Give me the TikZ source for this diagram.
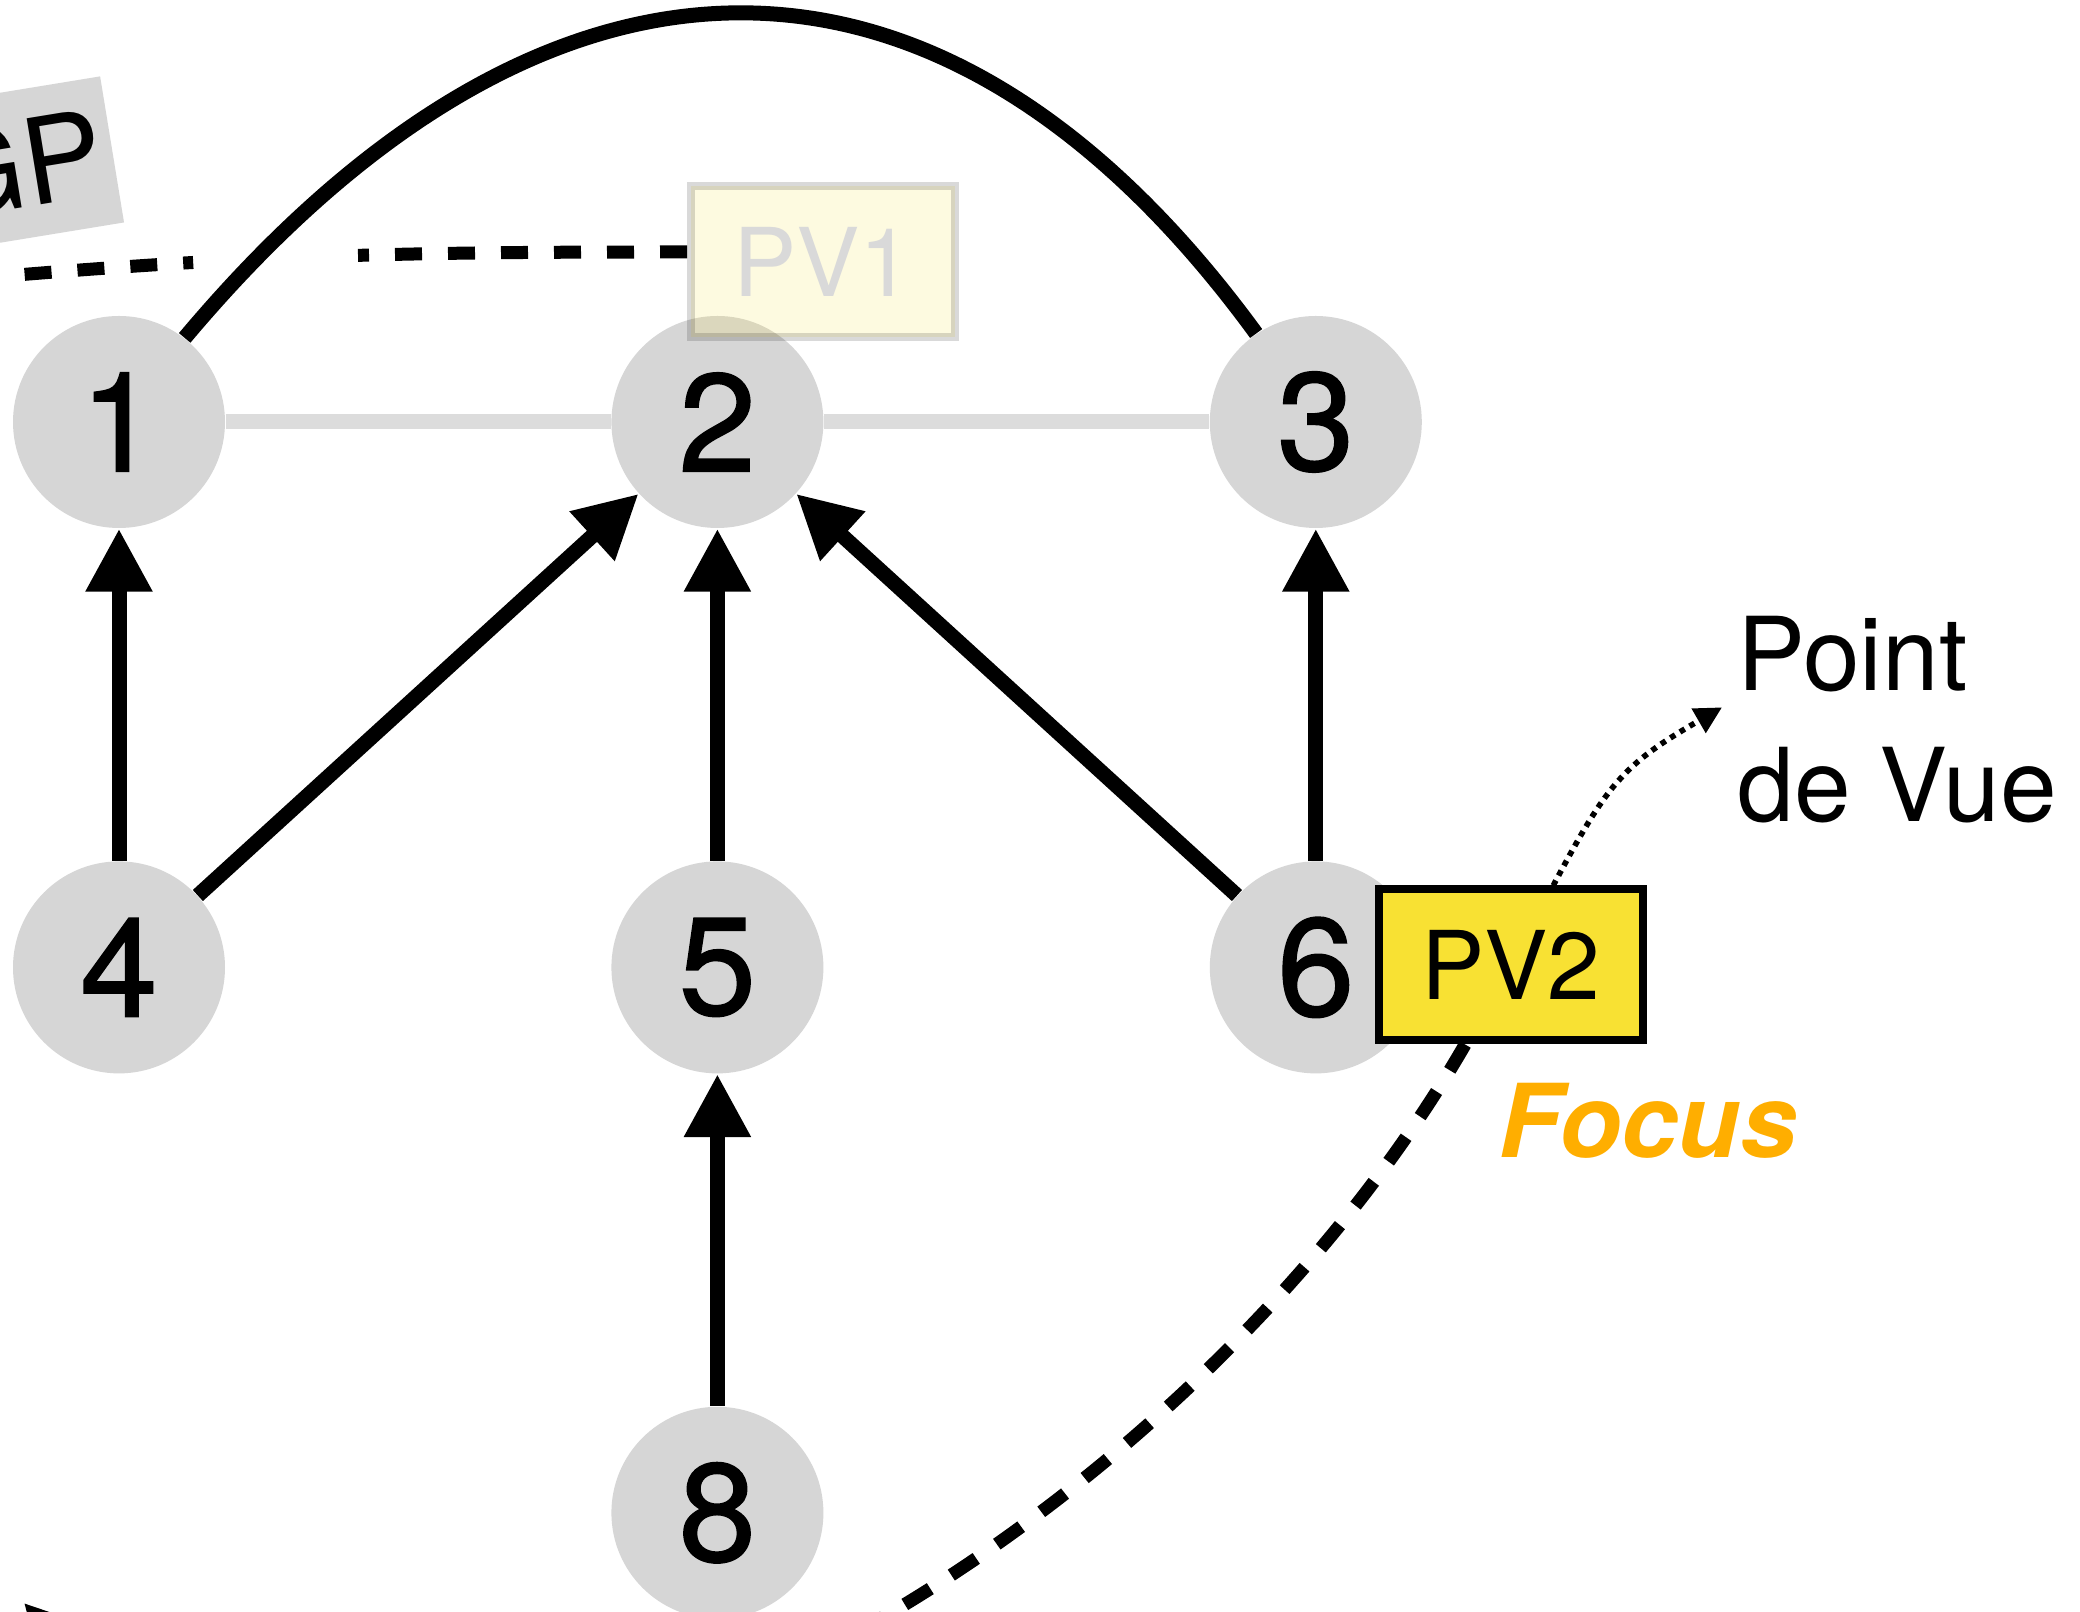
\documentclass[tikz,border=0pt]{standalone}
\usepackage{fontspec}
\setmainfont{TeX Gyre Heros}
\usetikzlibrary{arrows.meta,positioning}
\definecolor{disc}{HTML}{D6D6D6}
\definecolor{rail}{HTML}{DCDCDC}
\definecolor{pvyellow}{HTML}{F8E133}
\definecolor{focusamber}{HTML}{FFAE00}
\tikzset{
  vertex/.style={circle,fill=disc,minimum size=2.12cm,inner sep=0pt,font=\fontsize{39.5}{46}\selectfont\addfontfeature{FakeBold=1.2}},
  pvbox/.style={draw=black,line width=0.08cm,fill=pvyellow,minimum width=2.64cm,minimum height=1.51cm,inner sep=0pt,font=\fontsize{27}{32}\selectfont},
  gpbox/.style={fill=disc,minimum width=1.9cm,minimum height=1.48cm,inner sep=0.1cm,font=\fontsize{34}{40}\selectfont},
  note/.style={align=left,inner sep=0.15cm,font=\fontsize{29}{37}\selectfont},
  arrow/.style={-{Triangle[length=6.3mm,width=6.3mm]},line width=0.15cm},
  railline/.style={line width=0.15cm,draw=rail},
  dashline/.style={line width=0.13cm,dash pattern=on 3mm off 2.5mm},
  gpline/.style={line width=0.13cm,dash pattern=on 2.7mm off 2.6mm on 2.7mm off 2.6mm on 2.7mm off 2.6mm
    on 2.7mm off 2.6mm on 2.7mm off 2.6mm on 2.7mm off 2.6mm on 1.1mm off 16.5mm on 1mm off 2.6mm
    on 2.7mm off 2.6mm on 2.7mm off 2.6mm on 2.7mm off 2.6mm on 2.7mm off 2.6mm},
  dotarrow/.style={-{Triangle[length=2.7mm,width=2.7mm]},line width=1.6pt,dash pattern=on 1.6pt off 1.6pt}
}
\begin{document}
\begin{tikzpicture}
  \useasboundingbox (0,0) rectangle (20.8,-16.12);
  \fill[white] (0,0) rectangle (20.8,-16.12);
  % graph
  \node[vertex] (n1) at (1.19,-4.22) {1};
  \node[vertex,right=3.85cm of n1] (n2) {2};
  \node[vertex,right=3.85cm of n2] (n3) {3};
  \node[vertex,below=3.32cm of n1] (n4) {4};
  \node[vertex,below=3.32cm of n2] (n5) {5};
  \node[vertex,below=3.32cm of n3] (n6) {6};
  \node[vertex,below=3.32cm of n5] (n8) {8};
  \foreach \a/\b in {n1/n2,n2/n3}
    \draw[railline] (\a) -- (\b);
  \foreach \a/\b in {n4/n1,n4/n2,n5/n2,n6/n2,n6/n3,n8/n5}
    \draw[arrow] (\a) -- (\b);
  \draw[line width=0.15cm] (n1.52) .. controls +(3.62,4.31) and +(-3.14,4.30) .. (n3.124);
  % points de vue
  \node[gpbox,rotate=9.3] (gp) at (0.17,-1.65) {GP};
  \node[pvbox,fill opacity=0.15,draw opacity=0.15,text opacity=1,text=black!15] (pv1) at (8.23,-2.615) {PV1};
  \coordinate (gpfrom) at (-0.3,-2.79);
  \draw[gpline] (pv1.176) to[out=180,in=5] (gpfrom);
  \node[pvbox] (pv2) at (15.11,-9.65) {PV2};
  \node[note,anchor=north west] (pdv) at (17.22,-6.01) {Point\\de Vue};
  \node[font=\fontsize{29}{34}\selectfont\bfseries\itshape,text=focusamber,anchor=base west,inner sep=0pt] (focuslbl) at (14.98,-11.58) {Focus};
  \coordinate (focusend) at (0.24,-16.03);
  \draw[dotarrow] (pv2) to[out=62,in=210,looseness=1.2] (pdv.176);
  \draw[dashline,-{Triangle[length=6.3mm,width=6.3mm]}] (pv2) to[out=240,in=313,in looseness=0.9] (focusend);
\end{tikzpicture}
\end{document}
